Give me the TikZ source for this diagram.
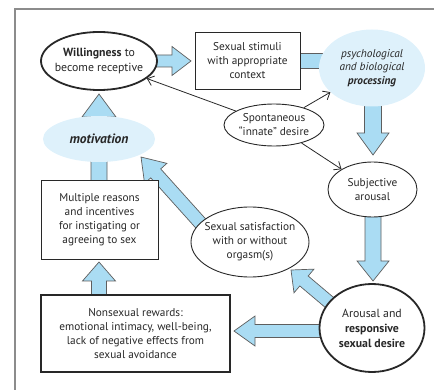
\documentclass[tikz,border=0pt]{standalone}
\usepackage{fontspec}
\setmainfont{PT Sans}
\usetikzlibrary{shapes.geometric,arrows.meta,calc}
\definecolor{fatblue}{RGB}{170,220,243}
\definecolor{paleblue}{RGB}{222,241,251}
\definecolor{ink}{RGB}{40,40,40}
\newcommand{\fatarr}[5]{%
  \path let \p1=($(#2)-(#1)$) in \pgfextra{%
    \pgfmathsetmacro\fatang{atan2(\y1,\x1)}%
    \pgfmathsetmacro\fatlen{veclen(\x1,\y1)}%
    \global\let\fatang\fatang \global\let\fatlen\fatlen};
  \begin{scope}[shift={(#1)},rotate=\fatang]
    \draw[fatarrow] (0pt,-#3pt) -- ({\fatlen pt-#5pt},-#3pt) -- ({\fatlen pt-#5pt},-#4pt)
      -- (\fatlen pt,0pt) -- ({\fatlen pt-#5pt},#4pt) -- ({\fatlen pt-#5pt},#3pt) -- (0pt,#3pt) -- cycle;
  \end{scope}}
\begin{document}
\begin{tikzpicture}[x=1pt,y=-1pt,
  ell/.style={ellipse, draw=ink, line width=0.9pt, inner sep=0pt, fill=white},
  thickell/.style={ell, line width=1.8pt},
  box/.style={rectangle, draw=ink, line width=0.9pt, fill=white, inner sep=0pt},
  thickbox/.style={box, line width=1.8pt},
  txt/.style={align=center, font=\fontsize{11.3}{14}\selectfont, text=ink, inner sep=0pt},
  bigtxt/.style={align=center, font=\fontsize{11.8}{15}\selectfont, text=ink, inner sep=0pt},
  ittxt/.style={align=center, font=\fontsize{11.3}{13.5}\selectfont\itshape, text=ink, inner sep=0pt},
  blob/.style={ellipse, fill=paleblue, inner sep=0pt},
  fatarrow/.style={fill=fatblue, draw=ink!75, line width=0.7pt, line join=miter},
  thinarrow/.style={draw=ink, line width=0.8pt, -{Straight Barb[length=6pt,width=10pt]}},
  frame/.style={draw=black!45, line width=1.2pt}]
\useasboundingbox (0,0) rectangle (434,390);
% frame
\coordinate (fb) at (15,390);
\coordinate (fc) at (15,9);
\coordinate (fr) at (434,9);
\draw[frame] (fb) -- (fc) -- (fr);
% fat arrow end points
\coordinate (a1s) at (156,61);  \coordinate (a1e) at (191,61);
\coordinate (a2s) at (298,61);  \coordinate (a2e) at (345,61);
\coordinate (a3s) at (373,100); \coordinate (a3e) at (373,155);
\coordinate (a4s) at (373,214); \coordinate (a4e) at (373,281);
\coordinate (a5s) at (326,331); \coordinate (a5e) at (234,331);
\coordinate (a6s) at (336,308); \coordinate (a6e) at (291,270);
\coordinate (a7s) at (203,226); \coordinate (a7e) at (141,157);
\coordinate (a8s) at (99,182);  \coordinate (a8e) at (99,94);
\coordinate (a9s) at (99,297);  \coordinate (a9e) at (99,262);
\fatarr{a1s}{a1e}{6}{14.5}{19}
\fatarr{a2s}{a2e}{7.5}{11}{14}
\fatarr{a3s}{a3e}{8.5}{16}{22}
\fatarr{a4s}{a4e}{8}{16}{20}
\fatarr{a5s}{a5e}{6.5}{15}{21}
\fatarr{a6s}{a6e}{6.5}{15.5}{17}
\fatarr{a7s}{a7e}{6.7}{15}{22}
\fatarr{a8s}{a8e}{8}{17}{23}
\fatarr{a9s}{a9e}{7.5}{16.5}{19}
% shapes
\node[thickell, minimum width=116pt, minimum height=58pt] (will) at (99,61) {};
\node[box, minimum width=105pt, minimum height=57pt] (stim) at (247.5,60.5) {};
\node[blob, minimum width=106pt, minimum height=77pt] (proc) at (372,68) {};
\node[ell, minimum width=100pt, minimum height=42pt] (spont) at (274,125) {};
\node[ell, minimum width=89pt, minimum height=55pt] (subj) at (372.5,189.5) {};
\node[thickell, minimum width=105pt, minimum height=88pt] (arous) at (372,328) {};
\node[ell, minimum width=118pt, minimum height=70pt] (sat) at (250,242) {};
\node[blob, minimum width=112pt, minimum height=46pt] (motiv) at (99,139) {};
\node[box, minimum width=117pt, minimum height=79pt] (mult) at (99.5,219.5) {};
\node[thickbox, minimum width=189pt, minimum height=77pt] (nonsex) at (135.5,333.5) {};
% texts
\node[bigtxt] (willt) at (will) {\textbf{Willingness} to\\become receptive};
\node[txt] (stimt) at (stim) {Sexual stimuli\\with appropriate\\context};
\node[ittxt] (proct) at (proc) {psychological\\and biological\\\textbf{processing}};
\node[txt] (spontt) at (spont) {Spontaneous\\“innate” desire};
\node[txt] (subjt) at (subj) {Subjective\\arousal};
\node[bigtxt] (aroust) at (arous) {Arousal and\\\textbf{responsive}\\\textbf{sexual desire}};
\node[txt] (satt) at (sat) {Sexual satisfaction\\with or without\\orgasm(s)};
\node[ittxt, font=\fontsize{13.5}{15}\selectfont\itshape\bfseries] (motivt) at (motiv) {motivation};
\node[txt] (multt) at (mult) {Multiple reasons\\and incentives\\for instigating or\\agreeing to sex};
\node[txt] (nonsext) at (nonsex) {Nonsexual rewards:\\emotional intimacy, well-being,\\lack of negative effects from\\sexual avoidance};
% thin arrows
\draw[thinarrow] (spont) -- (will);
\draw[thinarrow] (spont) -- (proc);
\draw[thinarrow] (spont) -- (subj);
\end{tikzpicture}
\end{document}
